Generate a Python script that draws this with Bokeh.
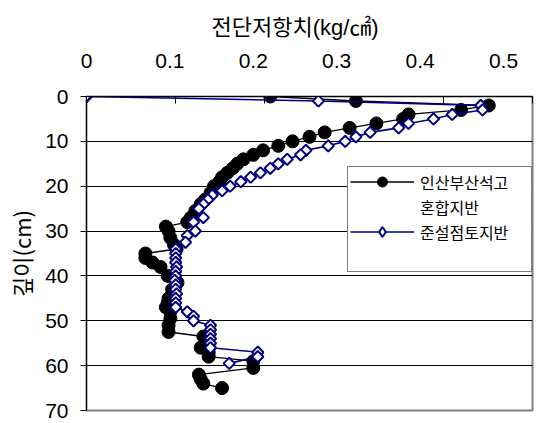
from bokeh.plotting import figure
from bokeh.models import (Range1d, LinearAxis, FixedTicker, Legend, LegendItem,
                          ColumnDataSource, CDSView, IndexFilter)
from bokeh.embed import file_html
from bokeh.resources import INLINE

# ---- data ----
x_title = "전단저항치(kg/㎠)"
y_title = "깊이(cm)"
series_names = ["인산부산석고", "혼합지반", "준설점토지반"]
x_ticks = [0, 0.1, 0.2, 0.3, 0.4, 0.5]
y_ticks = [0, 10, 20, 30, 40, 50, 60, 70]

black_depth = [0, 1, 2, 3, 4, 5, 6, 7, 8, 9, 10, 11, 12, 13, 14, 15, 16, 17, 18, 19, 20,
               21.5, 23, 24, 25.5, 27, 28, 29, 30, 31.5, 33, 34, 35, 36, 37, 38, 40,
               41.5, 43, 45, 46, 47, 48, 49.5, 51, 52.5, 53.5, 56, 57, 58, 59, 60.5,
               62, 63, 64, 65]
black_value = [0.206, 0.302, 0.451, 0.420, 0.361, 0.355, 0.325, 0.295, 0.267, 0.250, 0.231,
               0.215, 0.198, 0.187, 0.176, 0.169, 0.164, 0.158, 0.152, 0.149, 0.143,
               0.139, 0.133, 0.128, 0.122, 0.117, 0.113, 0.089, 0.092, 0.094, 0.098, 0.101,
               0.066, 0.066, 0.074, 0.083, 0.091, 0.102, 0.096, 0.092, 0.091, 0.089,
               0.094, 0.094, 0.092, 0.092, 0.131, 0.128, 0.137, 0.137, 0.187, 0.187,
               0.126, 0.128, 0.131, 0.152]

blue_depth = [0, 1, 2, 3, 4, 5, 6, 7, 8, 9, 10, 11, 12, 13, 14, 15, 16, 17, 18, 19, 20,
              21, 22, 23, 24, 25, 27, 28, 30, 31, 32.5, 34, 35, 36, 37, 38, 39, 40, 41,
              42, 43, 44, 45, 46, 47, 48, 49, 50, 51, 52, 53, 54, 55, 56, 57, 58, 59.5]
blue_value = [0.0, 0.260, 0.442, 0.444, 0.410, 0.389, 0.361, 0.350, 0.318, 0.302, 0.290,
              0.271, 0.246, 0.240, 0.225, 0.215, 0.206, 0.195, 0.184, 0.173, 0.161,
              0.152, 0.141, 0.136, 0.131, 0.126, 0.131, 0.120, 0.122, 0.113, 0.111, 0.100,
              0.100, 0.100, 0.100, 0.101, 0.100, 0.100, 0.099, 0.100, 0.100, 0.101, 0.100,
              0.100, 0.100, 0.113, 0.120, 0.120, 0.139, 0.139, 0.139, 0.139, 0.139, 0.139,
              0.192, 0.192, 0.160]

NUM_FONT = "Liberation Sans"
KR_FONT = "Noto Sans CJK KR"
TITLE_FONT = "Liberation Sans, Noto Sans CJK KR"
NAVY = "#000080"

p = figure(frame_width=446, frame_height=314,
           min_border_left=86, min_border_right=20, min_border_top=96, min_border_bottom=12,
           x_range=Range1d(0, 0.5), y_range=Range1d(70, 0),
           x_axis_location="above", output_backend="svg", toolbar_location=None,
           title=x_title, title_location="above")

p.title.align = "left"
p.title.offset = 125
p.title.standoff = 22
p.title.text_font = TITLE_FONT
p.title.text_font_size = "22px"
p.title.text_font_style = "normal"
p.title.text_color = "black"

# main top axis (tick marks only)
xa = p.xaxis[0]
xa.ticker = FixedTicker(ticks=x_ticks)
xa.major_tick_in = 7
xa.major_tick_out = 0
xa.minor_tick_line_color = None
xa.major_label_text_font_size = "0px"
xa.major_label_text_color = None
xa.major_label_standoff = 0
xa.axis_line_color = "black"
xa.major_tick_line_color = "black"

# axis carrying the top tick labels
p.extra_x_ranges = {"lbl": Range1d(0, 0.5348)}
la = LinearAxis(x_range_name="lbl", ticker=FixedTicker(ticks=x_ticks),
                axis_line_color=None, major_tick_line_color=None, minor_tick_line_color=None,
                major_tick_in=0, major_tick_out=0,
                major_label_text_font=NUM_FONT, major_label_text_font_size="21px",
                major_label_text_color="black", major_label_standoff=29,
                major_label_overrides={0: "0"})
p.add_layout(la, "above")

ya = p.yaxis[0]
ya.ticker = FixedTicker(ticks=y_ticks)
ya.major_tick_out = 6
ya.major_tick_in = 0
ya.minor_tick_line_color = None
ya.major_label_standoff = 12
ya.major_label_text_font = NUM_FONT
ya.major_label_text_font_size = "21px"
ya.major_label_text_color = "black"
ya.axis_line_color = "black"
ya.axis_label = y_title
ya.axis_label_text_font = KR_FONT
ya.axis_label_text_font_size = "22px"
ya.axis_label_text_font_style = "normal"
ya.axis_label_text_color = "black"
ya.axis_label_standoff = 5

p.ygrid.ticker = FixedTicker(ticks=y_ticks)
p.ygrid.grid_line_color = "black"
p.ygrid.grid_line_width = 1
p.xgrid.visible = False
p.outline_line_color = "#808080"
p.outline_line_width = 2
p.background_fill_color = "white"

bsrc = ColumnDataSource(dict(v=black_value, d=black_depth))
nsrc = ColumnDataSource(dict(v=blue_value, d=blue_depth))

bl = p.line("v", "d", source=bsrc, line_color="black", line_width=1.3)
bc = p.scatter("v", "d", source=bsrc, size=13, fill_color="black", line_color="black")
nl = p.line("v", "d", source=nsrc, line_color=NAVY, line_width=1.6)
nd = p.scatter("v", "d", source=nsrc, marker="square", angle=0.7854, size=8,
               fill_color="white", line_color=NAVY, line_width=2)
# legend key glyph for the diamonds (shown only on the first point, which is a diamond anyway)
first_only = CDSView(filter=IndexFilter(indices=[0]))
nd_key = p.scatter("v", "d", source=nsrc, view=first_only, marker="diamond", size=12,
                   fill_color="white", line_color=NAVY, line_width=2)
empty_b = CDSView(filter=IndexFilter(indices=[]))
blank = p.scatter("v", "d", source=bsrc, view=empty_b, size=1, fill_alpha=0, line_alpha=0)

legend = Legend(items=[LegendItem(label=series_names[0], renderers=[bl, bc]),
                       LegendItem(label=series_names[1], renderers=[blank]),
                       LegendItem(label=series_names[2], renderers=[nl, nd_key]),
                       LegendItem(label=" ", renderers=[blank])],
                location=(261, 138), margin=0, padding=2, spacing=0,
                label_height=25, glyph_height=25, glyph_width=64, label_standoff=6,
                label_width=109, label_text_font=KR_FONT, label_text_font_size="16px",
                label_text_color="black", border_line_color="black", border_line_width=1,
                background_fill_color="white", background_fill_alpha=1)
p.add_layout(legend)

open("out.html", "w").write(file_html(p, INLINE))
